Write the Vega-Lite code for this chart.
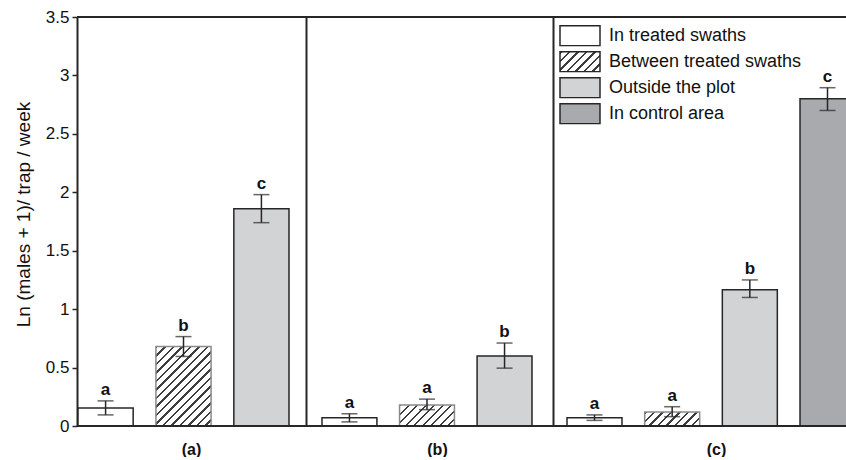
{
  "$schema": "https://vega.github.io/schema/vega-lite/v6.json",
  "padding": {"left": 14, "top": 8, "right": 0, "bottom": 0},
  "bounds": "flush",
  "spacing": 0,
  "config": {"font": "Liberation Sans", "view": {"stroke": null}, "axis": {"grid": false}},
  "resolve": {"scale": {"fill": "independent", "stroke": "independent"}, "legend": {"fill": "independent"}},
  "data": {"values": [
    {"grp": "a", "cat": "In treated swaths", "v": 0.155, "lo": 0.095, "hi": 0.215, "letter": "a"},
    {"grp": "a", "cat": "Between treated swaths", "v": 0.68, "lo": 0.595, "hi": 0.765, "letter": "b"},
    {"grp": "a", "cat": "Outside the plot", "v": 1.86, "lo": 1.74, "hi": 1.98, "letter": "c"},
    {"grp": "b", "cat": "In treated swaths", "v": 0.07, "lo": 0.035, "hi": 0.105, "letter": "a"},
    {"grp": "b", "cat": "Between treated swaths", "v": 0.18, "lo": 0.14, "hi": 0.23, "letter": "a"},
    {"grp": "b", "cat": "Outside the plot", "v": 0.6, "lo": 0.495, "hi": 0.71, "letter": "b"},
    {"grp": "c", "cat": "In treated swaths", "v": 0.07, "lo": 0.048, "hi": 0.095, "letter": "a"},
    {"grp": "c", "cat": "Between treated swaths", "v": 0.12, "lo": 0.08, "hi": 0.165, "letter": "a"},
    {"grp": "c", "cat": "Outside the plot", "v": 1.165, "lo": 1.1, "hi": 1.25, "letter": "b"},
    {"grp": "c", "cat": "In control area", "v": 2.8, "lo": 2.7, "hi": 2.895, "letter": "c"}
  ]},
  "hconcat": [
    {
      "width": 229, "height": 409,
      "transform": [{"filter": "datum.grp === 'a'"}],
      "layer": [
        {
          "mark": {"type": "bar", "strokeWidth": 1.5, "clip": true},
          "encoding": {
            "x": {"field": "cat", "type": "nominal", "sort": null,
              "scale": {"domain": ["In treated swaths", "Between treated swaths", "Outside the plot"], "range": [1, 212], "paddingInner": 0.292, "paddingOuter": 0},
              "axis": {"domain": false, "ticks": false, "labels": false, "title": "(a)", "titleFontSize": 16, "titleFontWeight": "bold", "titleColor": "#111", "titleX": 114, "titleY": 28, "titleBaseline": "alphabetic", "titleAlign": "center"}},
            "y": {"field": "v", "type": "quantitative", "title": "Ln (males + 1)/ trap / week",
              "scale": {"domain": [0, 3.5], "nice": false},
              "axis": {"values": [0, 0.5, 1, 1.5, 2, 2.5, 3, 3.5], "format": "~g", "title": "Ln (males + 1)/ trap / week", "titleFontSize": 19, "titleFontWeight": "normal", "titleColor": "#111", "titleX": -54, "titleY": 197, "titleBaseline": "middle", "labelFontSize": 17, "labelColor": "#111", "tickSize": 5, "tickColor": "#262626", "tickWidth": 1.5, "labelPadding": 3, "domainColor": "#262626", "domainWidth": 2}},
            "stroke": {"condition": {"test": "datum.cat === 'Between treated swaths'", "value": "#8a8a8a"}, "value": "#262626"},
            "fill": {
              "condition": [{"test": "datum.cat === 'Between treated swaths'", "value": {"gradient": "linear", "x1": 0, "y1": 0, "x2": 0.8018, "y2": 1.1549, "stops": [
                {"offset": 0, "color": "#3d3d3d"}, {"offset": 0.0175, "color": "#3d3d3d"}, {"offset": 0.0175, "color": "#ffffff"}, {"offset": 0.0625, "color": "#ffffff"},
                {"offset": 0.0625, "color": "#3d3d3d"}, {"offset": 0.08, "color": "#3d3d3d"}, {"offset": 0.08, "color": "#ffffff"}, {"offset": 0.125, "color": "#ffffff"},
                {"offset": 0.125, "color": "#3d3d3d"}, {"offset": 0.1425, "color": "#3d3d3d"}, {"offset": 0.1425, "color": "#ffffff"}, {"offset": 0.1875, "color": "#ffffff"},
                {"offset": 0.1875, "color": "#3d3d3d"}, {"offset": 0.205, "color": "#3d3d3d"}, {"offset": 0.205, "color": "#ffffff"}, {"offset": 0.25, "color": "#ffffff"},
                {"offset": 0.25, "color": "#3d3d3d"}, {"offset": 0.2675, "color": "#3d3d3d"}, {"offset": 0.2675, "color": "#ffffff"}, {"offset": 0.3125, "color": "#ffffff"},
                {"offset": 0.3125, "color": "#3d3d3d"}, {"offset": 0.33, "color": "#3d3d3d"}, {"offset": 0.33, "color": "#ffffff"}, {"offset": 0.375, "color": "#ffffff"},
                {"offset": 0.375, "color": "#3d3d3d"}, {"offset": 0.3925, "color": "#3d3d3d"}, {"offset": 0.3925, "color": "#ffffff"}, {"offset": 0.4375, "color": "#ffffff"},
                {"offset": 0.4375, "color": "#3d3d3d"}, {"offset": 0.455, "color": "#3d3d3d"}, {"offset": 0.455, "color": "#ffffff"}, {"offset": 0.5, "color": "#ffffff"},
                {"offset": 0.5, "color": "#3d3d3d"}, {"offset": 0.5175, "color": "#3d3d3d"}, {"offset": 0.5175, "color": "#ffffff"}, {"offset": 0.5625, "color": "#ffffff"},
                {"offset": 0.5625, "color": "#3d3d3d"}, {"offset": 0.58, "color": "#3d3d3d"}, {"offset": 0.58, "color": "#ffffff"}, {"offset": 0.625, "color": "#ffffff"},
                {"offset": 0.625, "color": "#3d3d3d"}, {"offset": 0.6425, "color": "#3d3d3d"}, {"offset": 0.6425, "color": "#ffffff"}, {"offset": 0.6875, "color": "#ffffff"},
                {"offset": 0.6875, "color": "#3d3d3d"}, {"offset": 0.705, "color": "#3d3d3d"}, {"offset": 0.705, "color": "#ffffff"}, {"offset": 0.75, "color": "#ffffff"},
                {"offset": 0.75, "color": "#3d3d3d"}, {"offset": 0.7675, "color": "#3d3d3d"}, {"offset": 0.7675, "color": "#ffffff"}, {"offset": 0.8125, "color": "#ffffff"},
                {"offset": 0.8125, "color": "#3d3d3d"}, {"offset": 0.83, "color": "#3d3d3d"}, {"offset": 0.83, "color": "#ffffff"}, {"offset": 0.875, "color": "#ffffff"},
                {"offset": 0.875, "color": "#3d3d3d"}, {"offset": 0.8925, "color": "#3d3d3d"}, {"offset": 0.8925, "color": "#ffffff"}, {"offset": 0.9375, "color": "#ffffff"},
                {"offset": 0.9375, "color": "#3d3d3d"}, {"offset": 0.955, "color": "#3d3d3d"}, {"offset": 0.955, "color": "#ffffff"}, {"offset": 1, "color": "#ffffff"}
              ]}}],
              "field": "cat", "type": "nominal",
              "scale": {"domain": ["In treated swaths", "Between treated swaths", "Outside the plot", "In control area"], "range": ["#ffffff", "#bbbbbb", "#d2d3d5", "#a9aaad"]},
              "legend": null
            }
          }
        },
        {
          "mark": {"type": "errorbar", "ticks": {"size": 16, "thickness": 1.5, "color": "#262626"}, "rule": {"strokeWidth": 1.5, "color": "#262626"}},
          "encoding": {
            "x": {"field": "cat", "type": "nominal", "sort": null},
            "y": {"field": "lo", "type": "quantitative", "title": "Ln (males + 1)/ trap / week"},
            "y2": {"field": "hi"}
          }
        },
        {
          "mark": {"type": "text", "baseline": "bottom", "dy": -2, "fontSize": 17, "fontWeight": "bold", "color": "#111"},
          "encoding": {
            "x": {"field": "cat", "type": "nominal", "sort": null},
            "y": {"field": "hi", "type": "quantitative", "title": "Ln (males + 1)/ trap / week"},
            "text": {"field": "letter"}
          }
        },
        {"mark": {"type": "rule", "color": "#262626", "strokeWidth": 1.5}, "encoding": {"y": {"datum": 0, "type": "quantitative", "title": "Ln (males + 1)/ trap / week"}}},
        {"mark": {"type": "rule", "color": "#262626", "strokeWidth": 2}, "encoding": {"y": {"datum": 3.5, "type": "quantitative", "title": "Ln (males + 1)/ trap / week"}}}
      ]
    },
    {
      "width": 247, "height": 409,
      "transform": [{"filter": "datum.grp === 'b'"}],
      "layer": [
        {
          "mark": {"type": "bar", "strokeWidth": 1.5, "clip": true},
          "encoding": {
            "x": {"field": "cat", "type": "nominal", "sort": null,
              "scale": {"domain": ["In treated swaths", "Between treated swaths", "Outside the plot"], "range": [16, 226], "paddingInner": 0.292, "paddingOuter": 0},
              "axis": {"domain": false, "ticks": false, "labels": false, "title": "(b)", "titleFontSize": 16, "titleFontWeight": "bold", "titleColor": "#111", "titleX": 131, "titleY": 28, "titleBaseline": "alphabetic", "titleAlign": "center"}},
            "y": {"field": "v", "type": "quantitative",
              "scale": {"domain": [0, 3.5], "nice": false},
              "axis": {"labels": false, "ticks": false, "title": null, "domainColor": "#262626", "domainWidth": 2}},
            "stroke": {"condition": {"test": "datum.cat === 'Between treated swaths'", "value": "#8a8a8a"}, "value": "#262626"},
            "fill": {
              "condition": [{"test": "datum.cat === 'Between treated swaths'", "value": {"gradient": "linear", "x1": 0, "y1": 0, "x2": 2.1602, "y2": 0.8275, "stops": [
                {"offset": 0, "color": "#3d3d3d"}, {"offset": 0.0175, "color": "#3d3d3d"}, {"offset": 0.0175, "color": "#ffffff"}, {"offset": 0.0625, "color": "#ffffff"},
                {"offset": 0.0625, "color": "#3d3d3d"}, {"offset": 0.08, "color": "#3d3d3d"}, {"offset": 0.08, "color": "#ffffff"}, {"offset": 0.125, "color": "#ffffff"},
                {"offset": 0.125, "color": "#3d3d3d"}, {"offset": 0.1425, "color": "#3d3d3d"}, {"offset": 0.1425, "color": "#ffffff"}, {"offset": 0.1875, "color": "#ffffff"},
                {"offset": 0.1875, "color": "#3d3d3d"}, {"offset": 0.205, "color": "#3d3d3d"}, {"offset": 0.205, "color": "#ffffff"}, {"offset": 0.25, "color": "#ffffff"},
                {"offset": 0.25, "color": "#3d3d3d"}, {"offset": 0.2675, "color": "#3d3d3d"}, {"offset": 0.2675, "color": "#ffffff"}, {"offset": 0.3125, "color": "#ffffff"},
                {"offset": 0.3125, "color": "#3d3d3d"}, {"offset": 0.33, "color": "#3d3d3d"}, {"offset": 0.33, "color": "#ffffff"}, {"offset": 0.375, "color": "#ffffff"},
                {"offset": 0.375, "color": "#3d3d3d"}, {"offset": 0.3925, "color": "#3d3d3d"}, {"offset": 0.3925, "color": "#ffffff"}, {"offset": 0.4375, "color": "#ffffff"},
                {"offset": 0.4375, "color": "#3d3d3d"}, {"offset": 0.455, "color": "#3d3d3d"}, {"offset": 0.455, "color": "#ffffff"}, {"offset": 0.5, "color": "#ffffff"},
                {"offset": 0.5, "color": "#3d3d3d"}, {"offset": 0.5175, "color": "#3d3d3d"}, {"offset": 0.5175, "color": "#ffffff"}, {"offset": 0.5625, "color": "#ffffff"},
                {"offset": 0.5625, "color": "#3d3d3d"}, {"offset": 0.58, "color": "#3d3d3d"}, {"offset": 0.58, "color": "#ffffff"}, {"offset": 0.625, "color": "#ffffff"},
                {"offset": 0.625, "color": "#3d3d3d"}, {"offset": 0.6425, "color": "#3d3d3d"}, {"offset": 0.6425, "color": "#ffffff"}, {"offset": 0.6875, "color": "#ffffff"},
                {"offset": 0.6875, "color": "#3d3d3d"}, {"offset": 0.705, "color": "#3d3d3d"}, {"offset": 0.705, "color": "#ffffff"}, {"offset": 0.75, "color": "#ffffff"},
                {"offset": 0.75, "color": "#3d3d3d"}, {"offset": 0.7675, "color": "#3d3d3d"}, {"offset": 0.7675, "color": "#ffffff"}, {"offset": 0.8125, "color": "#ffffff"},
                {"offset": 0.8125, "color": "#3d3d3d"}, {"offset": 0.83, "color": "#3d3d3d"}, {"offset": 0.83, "color": "#ffffff"}, {"offset": 0.875, "color": "#ffffff"},
                {"offset": 0.875, "color": "#3d3d3d"}, {"offset": 0.8925, "color": "#3d3d3d"}, {"offset": 0.8925, "color": "#ffffff"}, {"offset": 0.9375, "color": "#ffffff"},
                {"offset": 0.9375, "color": "#3d3d3d"}, {"offset": 0.955, "color": "#3d3d3d"}, {"offset": 0.955, "color": "#ffffff"}, {"offset": 1, "color": "#ffffff"}
              ]}}],
              "field": "cat", "type": "nominal",
              "scale": {"domain": ["In treated swaths", "Between treated swaths", "Outside the plot", "In control area"], "range": ["#ffffff", "#bbbbbb", "#d2d3d5", "#a9aaad"]},
              "legend": null
            }
          }
        },
        {
          "mark": {"type": "errorbar", "ticks": {"size": 16, "thickness": 1.5, "color": "#262626"}, "rule": {"strokeWidth": 1.5, "color": "#262626"}},
          "encoding": {
            "x": {"field": "cat", "type": "nominal", "sort": null},
            "y": {"field": "lo", "type": "quantitative"},
            "y2": {"field": "hi"}
          }
        },
        {
          "mark": {"type": "text", "baseline": "bottom", "dy": -2, "fontSize": 17, "fontWeight": "bold", "color": "#111"},
          "encoding": {
            "x": {"field": "cat", "type": "nominal", "sort": null},
            "y": {"field": "hi", "type": "quantitative"},
            "text": {"field": "letter"}
          }
        },
        {"mark": {"type": "rule", "color": "#262626", "strokeWidth": 1.5}, "encoding": {"y": {"datum": 0, "type": "quantitative"}}},
        {"mark": {"type": "rule", "color": "#262626", "strokeWidth": 2}, "encoding": {"y": {"datum": 3.5, "type": "quantitative"}}}
      ]
    },
    {
      "width": 293, "height": 409,
      "transform": [{"filter": "datum.grp === 'c'"}],
      "resolve": {"scale": {"fill": "independent"}, "legend": {"fill": "independent"}},
      "layer": [
        {
          "mark": {"type": "bar", "strokeWidth": 1.5, "clip": true},
          "encoding": {
            "x": {"field": "cat", "type": "nominal", "sort": null,
              "scale": {"domain": ["In treated swaths", "Between treated swaths", "Outside the plot", "In control area"], "range": [14, 302], "paddingInner": 0.292, "paddingOuter": 0},
              "axis": {"domain": false, "ticks": false, "labels": false, "title": "(c)", "titleFontSize": 16, "titleFontWeight": "bold", "titleColor": "#111", "titleX": 163, "titleY": 28, "titleBaseline": "alphabetic", "titleAlign": "center"}},
            "y": {"field": "v", "type": "quantitative",
              "scale": {"domain": [0, 3.5], "nice": false},
              "axis": {"labels": false, "ticks": false, "title": null, "domainColor": "#262626", "domainWidth": 2}},
            "stroke": {"condition": {"test": "datum.cat === 'Between treated swaths'", "value": "#8a8a8a"}, "value": "#262626"},
            "fill": {
              "condition": [{"test": "datum.cat === 'Between treated swaths'", "value": {"gradient": "linear", "x1": 0, "y1": 0, "x2": 2.3218, "y2": 0.5919, "stops": [
                {"offset": 0, "color": "#3d3d3d"}, {"offset": 0.0175, "color": "#3d3d3d"}, {"offset": 0.0175, "color": "#ffffff"}, {"offset": 0.0625, "color": "#ffffff"},
                {"offset": 0.0625, "color": "#3d3d3d"}, {"offset": 0.08, "color": "#3d3d3d"}, {"offset": 0.08, "color": "#ffffff"}, {"offset": 0.125, "color": "#ffffff"},
                {"offset": 0.125, "color": "#3d3d3d"}, {"offset": 0.1425, "color": "#3d3d3d"}, {"offset": 0.1425, "color": "#ffffff"}, {"offset": 0.1875, "color": "#ffffff"},
                {"offset": 0.1875, "color": "#3d3d3d"}, {"offset": 0.205, "color": "#3d3d3d"}, {"offset": 0.205, "color": "#ffffff"}, {"offset": 0.25, "color": "#ffffff"},
                {"offset": 0.25, "color": "#3d3d3d"}, {"offset": 0.2675, "color": "#3d3d3d"}, {"offset": 0.2675, "color": "#ffffff"}, {"offset": 0.3125, "color": "#ffffff"},
                {"offset": 0.3125, "color": "#3d3d3d"}, {"offset": 0.33, "color": "#3d3d3d"}, {"offset": 0.33, "color": "#ffffff"}, {"offset": 0.375, "color": "#ffffff"},
                {"offset": 0.375, "color": "#3d3d3d"}, {"offset": 0.3925, "color": "#3d3d3d"}, {"offset": 0.3925, "color": "#ffffff"}, {"offset": 0.4375, "color": "#ffffff"},
                {"offset": 0.4375, "color": "#3d3d3d"}, {"offset": 0.455, "color": "#3d3d3d"}, {"offset": 0.455, "color": "#ffffff"}, {"offset": 0.5, "color": "#ffffff"},
                {"offset": 0.5, "color": "#3d3d3d"}, {"offset": 0.5175, "color": "#3d3d3d"}, {"offset": 0.5175, "color": "#ffffff"}, {"offset": 0.5625, "color": "#ffffff"},
                {"offset": 0.5625, "color": "#3d3d3d"}, {"offset": 0.58, "color": "#3d3d3d"}, {"offset": 0.58, "color": "#ffffff"}, {"offset": 0.625, "color": "#ffffff"},
                {"offset": 0.625, "color": "#3d3d3d"}, {"offset": 0.6425, "color": "#3d3d3d"}, {"offset": 0.6425, "color": "#ffffff"}, {"offset": 0.6875, "color": "#ffffff"},
                {"offset": 0.6875, "color": "#3d3d3d"}, {"offset": 0.705, "color": "#3d3d3d"}, {"offset": 0.705, "color": "#ffffff"}, {"offset": 0.75, "color": "#ffffff"},
                {"offset": 0.75, "color": "#3d3d3d"}, {"offset": 0.7675, "color": "#3d3d3d"}, {"offset": 0.7675, "color": "#ffffff"}, {"offset": 0.8125, "color": "#ffffff"},
                {"offset": 0.8125, "color": "#3d3d3d"}, {"offset": 0.83, "color": "#3d3d3d"}, {"offset": 0.83, "color": "#ffffff"}, {"offset": 0.875, "color": "#ffffff"},
                {"offset": 0.875, "color": "#3d3d3d"}, {"offset": 0.8925, "color": "#3d3d3d"}, {"offset": 0.8925, "color": "#ffffff"}, {"offset": 0.9375, "color": "#ffffff"},
                {"offset": 0.9375, "color": "#3d3d3d"}, {"offset": 0.955, "color": "#3d3d3d"}, {"offset": 0.955, "color": "#ffffff"}, {"offset": 1, "color": "#ffffff"}
              ]}}],
              "field": "cat", "type": "nominal",
              "scale": {"domain": ["In treated swaths", "Between treated swaths", "Outside the plot", "In control area"], "range": ["#ffffff", "#bbbbbb", "#d2d3d5", "#a9aaad"]},
              "legend": null
            }
          }
        },
        {
          "mark": {"type": "bar", "opacity": 0},
          "encoding": {
            "x": {"field": "cat", "type": "nominal", "sort": null},
            "y": {"field": "v", "type": "quantitative"},
            "fill": {
              "field": "cat", "type": "nominal",
              "scale": {"domain": ["In treated swaths", "Between treated swaths", "Outside the plot", "In control area"], "range": ["#ffffff", {"expr": "{gradient: 'linear', x1: 0, y1: 0, x2: 2.72, y2: 1.36, stops: [{offset: 0, color: '#3d3d3d'}, {offset: 0.0175, color: '#3d3d3d'}, {offset: 0.0175, color: '#ffffff'}, {offset: 0.0625, color: '#ffffff'}, {offset: 0.0625, color: '#3d3d3d'}, {offset: 0.08, color: '#3d3d3d'}, {offset: 0.08, color: '#ffffff'}, {offset: 0.125, color: '#ffffff'}, {offset: 0.125, color: '#3d3d3d'}, {offset: 0.1425, color: '#3d3d3d'}, {offset: 0.1425, color: '#ffffff'}, {offset: 0.1875, color: '#ffffff'}, {offset: 0.1875, color: '#3d3d3d'}, {offset: 0.205, color: '#3d3d3d'}, {offset: 0.205, color: '#ffffff'}, {offset: 0.25, color: '#ffffff'}, {offset: 0.25, color: '#3d3d3d'}, {offset: 0.2675, color: '#3d3d3d'}, {offset: 0.2675, color: '#ffffff'}, {offset: 0.3125, color: '#ffffff'}, {offset: 0.3125, color: '#3d3d3d'}, {offset: 0.33, color: '#3d3d3d'}, {offset: 0.33, color: '#ffffff'}, {offset: 0.375, color: '#ffffff'}, {offset: 0.375, color: '#3d3d3d'}, {offset: 0.3925, color: '#3d3d3d'}, {offset: 0.3925, color: '#ffffff'}, {offset: 0.4375, color: '#ffffff'}, {offset: 0.4375, color: '#3d3d3d'}, {offset: 0.455, color: '#3d3d3d'}, {offset: 0.455, color: '#ffffff'}, {offset: 1, color: '#ffffff'}]}"}, "#d2d3d5", "#a9aaad"]},
              "legend": {"orient": "none", "legendX": 6, "legendY": 8, "title": null, "padding": 0,
                "symbolType": "M-1,-0.5H1V0.5H-1Z", "symbolSize": 1600, "symbolOpacity": 1, "symbolStrokeWidth": 1.5, "symbolStrokeColor": "#262626",
                "labelFontSize": 18, "labelColor": "#111", "labelLimit": 300, "labelOffset": 8, "rowPadding": 4, "clipHeight": 21.5}
            }
          }
        },
        {
          "mark": {"type": "errorbar", "ticks": {"size": 16, "thickness": 1.5, "color": "#262626"}, "rule": {"strokeWidth": 1.5, "color": "#262626"}},
          "encoding": {
            "x": {"field": "cat", "type": "nominal", "sort": null},
            "y": {"field": "lo", "type": "quantitative"},
            "y2": {"field": "hi"}
          }
        },
        {
          "mark": {"type": "text", "baseline": "bottom", "dy": -2, "fontSize": 17, "fontWeight": "bold", "color": "#111"},
          "encoding": {
            "x": {"field": "cat", "type": "nominal", "sort": null},
            "y": {"field": "hi", "type": "quantitative"},
            "text": {"field": "letter"}
          }
        },
        {"mark": {"type": "rule", "color": "#262626", "strokeWidth": 1.5}, "encoding": {"y": {"datum": 0, "type": "quantitative"}}},
        {"mark": {"type": "rule", "color": "#262626", "strokeWidth": 2}, "encoding": {"y": {"datum": 3.5, "type": "quantitative"}}}
      ]
    }
  ]
}
